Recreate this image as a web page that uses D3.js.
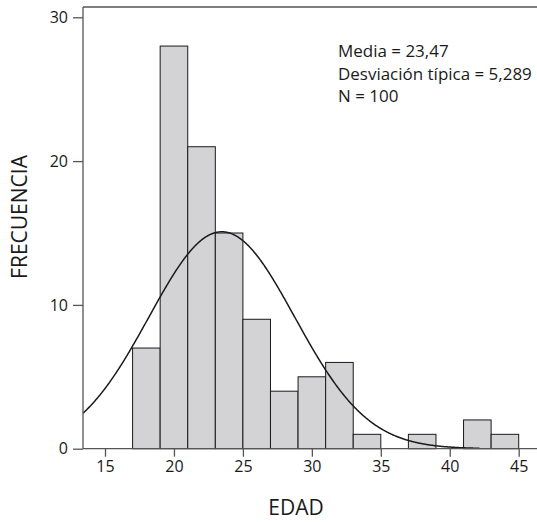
<!DOCTYPE html>
<html><head><meta charset="utf-8">
<script src="https://cdn.jsdelivr.net/npm/d3@7"></script>
<style>body{margin:0;background:#fff}svg{display:block}text{font-family:"Open Sans","Noto Sans",sans-serif;fill:#1a1a1a}</style>
</head><body>
<script>
const binStarts = [17,19,21,23,25,27,29,31,33,35,37,39,41,43];
const counts    = [7,28,21,15,9,4,5,6,1,0,1,0,2,1];
const binWidth = 2;
const xTicks = [15,20,25,30,35,40,45];
const yTicks = [0,10,20,30];
const mean = 23.47, sd = 5.289, n = 100;
const statLines = ["Media = 23,47","Desviación típica = 5,289","N = 100"];

const W=537,H=522;
const svg=d3.select("body").append("svg").attr("width",W).attr("height",H);
const x=d3.scaleLinear().domain([15,45]).range([105,518.7]);
const y=d3.scaleLinear().domain([0,30]).range([448.7,17.3]);
const x0=x.invert(83);
const yTop=y.invert(7);

// bars
svg.append("g").selectAll("rect").data(binStarts.map((s,i)=>({s,c:counts[i]})).filter(d=>d.c>0))
 .join("rect")
 .attr("x",d=>x(d.s)).attr("width",d=>x(d.s+binWidth)-x(d.s))
 .attr("y",d=>y(d.c)).attr("height",d=>y(0)-y(d.c))
 .attr("fill","#d3d3d5").attr("stroke","#1a1a1a").attr("stroke-width",1);

// normal curve
const pts=d3.range(x0,42.2,0.05).map(v=>[v,n*binWidth*Math.exp(-0.5*((v-mean)/sd)**2)/(sd*Math.sqrt(2*Math.PI))]);
svg.append("path").datum(pts)
 .attr("d",d3.line().x(d=>x(d[0])).y(d=>y(d[1])))
 .attr("fill","none").attr("stroke","#1a1a1a").attr("stroke-width",1.5);

// frame: top line
svg.append("line").attr("x1",83).attr("x2",537).attr("y1",y(yTop)).attr("y2",y(yTop)).attr("stroke","#555").attr("stroke-width",1.3);

// axes
const xa=svg.append("g").attr("transform",`translate(0,${y(0)})`)
 .call(d3.axisBottom(x).tickValues(xTicks).tickSize(8).tickPadding(4).tickSizeOuter(0));
xa.select(".domain").attr("d",`M${x(x0)},0H537`);
const ya=svg.append("g").attr("transform",`translate(${x(x0)},0)`)
 .call(d3.axisLeft(y).tickValues(yTicks).tickSize(10).tickPadding(5).tickSizeOuter(0));
ya.select(".domain").attr("d",`M0,${y(0)}V${y(yTop)}`);
[xa,ya].forEach(a=>{a.selectAll(".domain,line").attr("stroke","#555").attr("stroke-width",1.3);
 a.selectAll("text").attr("font-size",16).attr("fill","#1a1a1a").style("font-family",'"Open Sans","Noto Sans",sans-serif');});

// stats
const st=svg.append("g").selectAll("text").data(statLines).join("text")
 .attr("x",338).attr("y",(d,i)=>57+i*22.5).attr("font-size",16).text(d=>d);
const w=st.nodes()[1].getComputedTextLength();
st.attr("font-size",Math.min(19,16*194/w));

// titles
svg.append("text").attr("x",296).attr("y",515).attr("text-anchor","middle").attr("font-size",21).text("EDAD");
svg.append("text").attr("transform","translate(27,217) rotate(-90)").attr("text-anchor","middle").attr("font-size",21).text("FRECUENCIA");
</script>
</body></html>
